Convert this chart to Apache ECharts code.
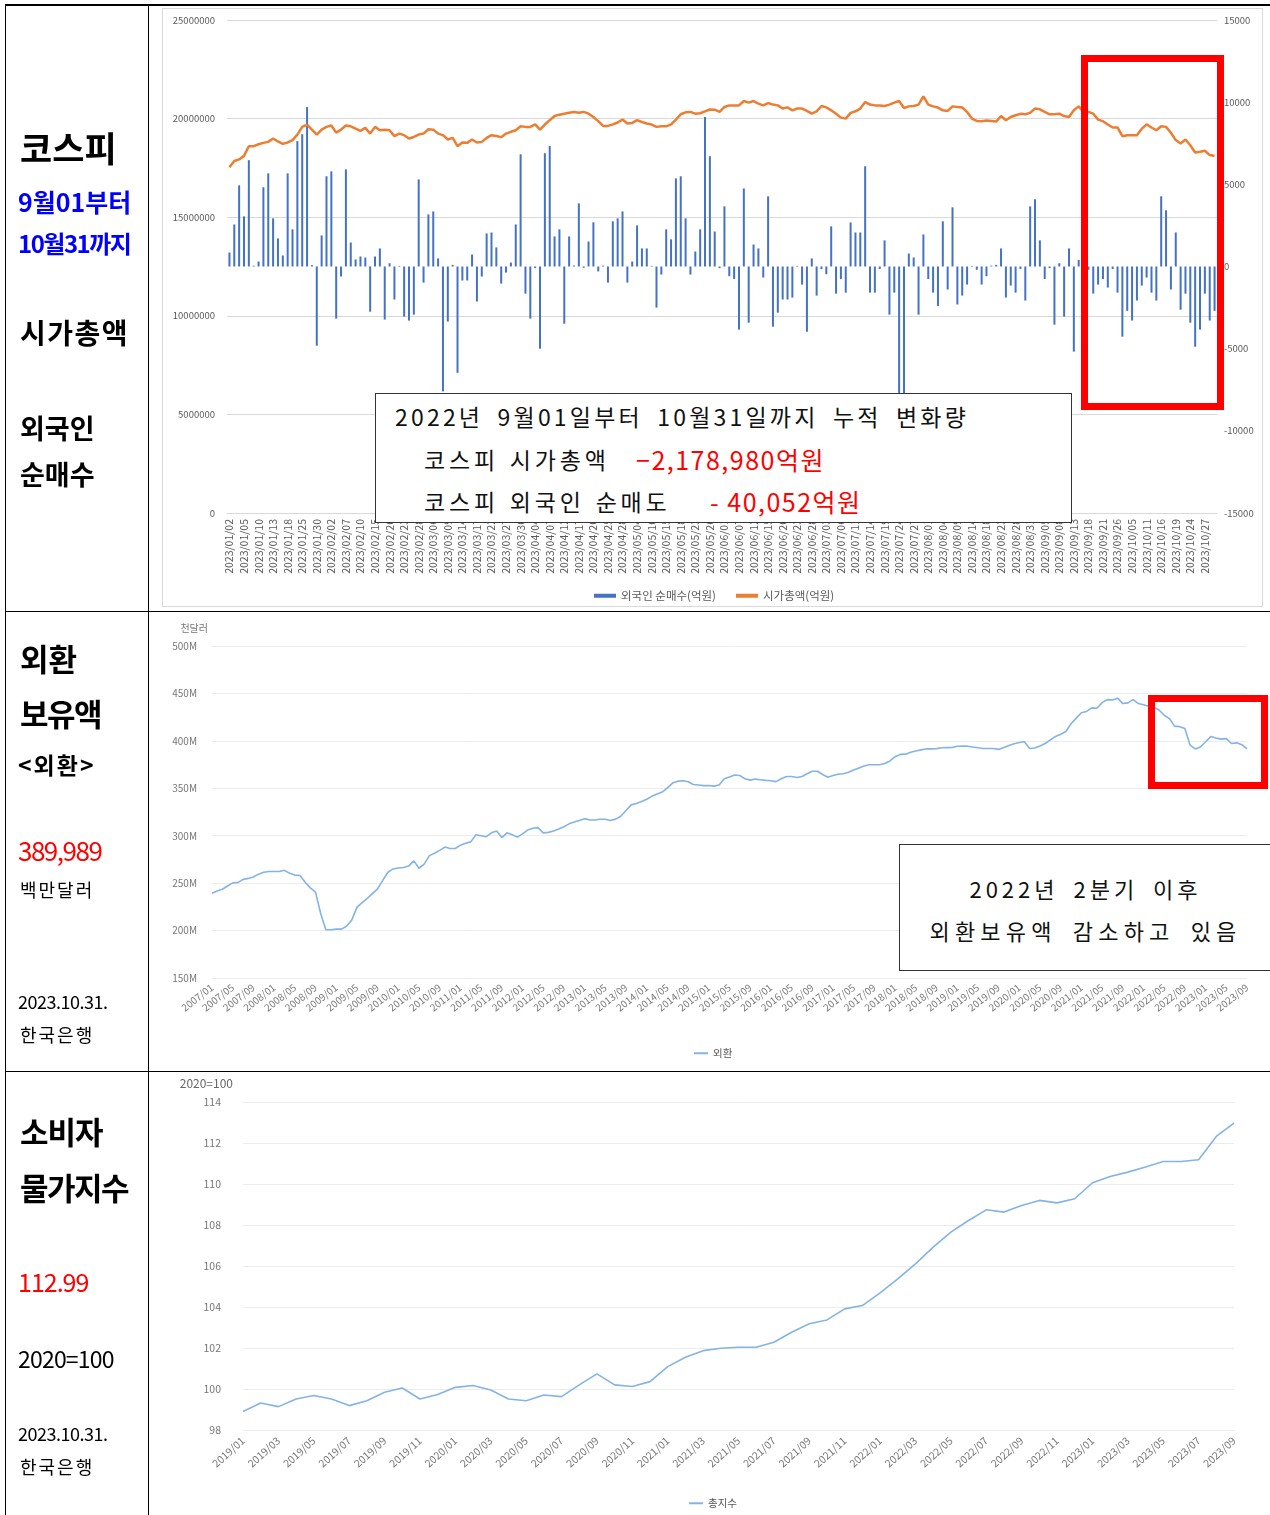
<!DOCTYPE html>
<html><head><meta charset="utf-8">
<script src="https://cdn.jsdelivr.net/npm/echarts@6/dist/echarts.min.js"></script>
<style>
html,body{margin:0;padding:0;background:#fff;}
#wrap{position:relative;width:1270px;height:1515px;overflow:hidden;font-family:"Noto Sans CJK KR","Noto Sans",sans-serif;}
#chart{position:absolute;left:0;top:0;width:1270px;height:1515px;}
.ln{position:absolute;background:#000;}
.t{position:absolute;left:20px;line-height:1;white-space:nowrap;transform:translateY(-50%);color:#000;}
.b{font-weight:bold;}
.box{position:absolute;background:#fff;border:1px solid #333;box-sizing:border-box;}
.bl{position:absolute;line-height:1;white-space:nowrap;transform:translateY(-50%);font-size:23px;letter-spacing:3.8px;word-spacing:2px;color:#111;}
.red{position:absolute;line-height:1;white-space:nowrap;transform:translateY(-50%);color:#ff0000;font-size:25px;letter-spacing:1.5px;}
.bc{position:absolute;left:0;width:371px;text-align:center;line-height:1;white-space:nowrap;transform:translateY(-50%);font-size:22px;letter-spacing:4px;word-spacing:6px;color:#111;}
.rbox{position:absolute;border:7px solid #ff0000;box-sizing:border-box;}
</style></head>
<body>
<div id="wrap">
<div id="chart"></div>
<!-- frame -->
<div class="ln" style="left:5px;top:4px;width:1265px;height:2px"></div>
<div class="ln" style="left:5px;top:4px;width:1px;height:1511px"></div>
<div class="ln" style="left:148px;top:4px;width:1px;height:1511px"></div>
<div class="ln" style="left:5px;top:611px;width:1265px;height:1px"></div>
<div class="ln" style="left:5px;top:1071px;width:1265px;height:1px"></div>
<div style="position:absolute;left:162px;top:8px;width:1099px;height:597px;border:1px solid #d9d9d9;"></div>

<!-- left panel -->
<div class="t b" style="top:146px;font-size:35px;">코스피</div>
<div class="t b" style="top:201px;left:18px;font-size:25px;color:#0000ff;letter-spacing:0px;">9월01부터</div>
<div class="t b" style="top:243px;left:18px;font-size:24px;color:#0000ff;letter-spacing:-1.5px;">10월31까지</div>
<div class="t b" style="top:332px;font-size:28px;letter-spacing:1.5px;">시가총액</div>
<div class="t b" style="top:427px;font-size:27px;">외국인</div>
<div class="t b" style="top:473px;font-size:27px;">순매수</div>

<div class="t b" style="top:657px;font-size:31px;letter-spacing:0px;">외환</div>
<div class="t b" style="top:712px;font-size:31px;letter-spacing:-1.5px;">보유액</div>
<div class="t b" style="top:764px;left:18px;font-size:23px;letter-spacing:2px;">&lt;외환&gt;</div>
<div class="t" style="top:850px;left:18px;font-size:26px;color:#ff0000;letter-spacing:-1.5px;">389,989</div>
<div class="t" style="top:889px;font-size:18px;letter-spacing:2px;">백만달러</div>
<div class="t" style="top:1001px;left:18px;font-size:18px;letter-spacing:-0.5px;">2023.10.31.</div>
<div class="t" style="top:1034px;font-size:18px;letter-spacing:2px;">한국은행</div>

<div class="t b" style="top:1130px;font-size:31px;letter-spacing:-1px;">소비자</div>
<div class="t b" style="top:1186px;font-size:31px;letter-spacing:-1.5px;">물가지수</div>
<div class="t" style="top:1281px;left:18px;font-size:25px;color:#ff0000;letter-spacing:-1px;">112.99</div>
<div class="t" style="top:1358px;left:18px;font-size:23px;letter-spacing:-0.8px;">2020=100</div>
<div class="t" style="top:1433px;left:18px;font-size:18px;letter-spacing:-0.5px;">2023.10.31.</div>
<div class="t" style="top:1466px;font-size:18px;letter-spacing:2px;">한국은행</div>

<!-- annotation boxes -->
<div class="box" style="left:375px;top:393px;width:697px;height:130px;">
  <div class="bl" style="left:19px;top:22px;letter-spacing:3.2px;word-spacing:6px;">2022년 9월01일부터 10월31일까지 누적 변화량</div>
  <div class="bl" style="left:48px;top:65px;">코스피 시가총액</div>
  <div class="red" style="left:260px;top:65px;">−2,178,980억원</div>
  <div class="bl" style="left:48px;top:107px;">코스피 외국인 순매도</div>
  <div class="red" style="left:334px;top:107px;">- 40,052억원</div>
</div>
<div class="rbox" style="left:1081px;top:55px;width:143px;height:355px;"></div>

<div class="box" style="left:899px;top:844px;width:380px;height:127px;">
  <div class="bc" style="top:43px;">2022년 2분기 이후</div>
  <div class="bc" style="top:85px;letter-spacing:5.2px;">외환보유액 감소하고 있음</div>
</div>
<div class="rbox" style="left:1148px;top:695px;width:120px;height:94px;"></div>
</div>

<script>
// ---------- KOSPI (2023 trading days) ----------
const krxHolidays = ['2023-01-23','2023-01-24','2023-03-01','2023-05-01','2023-05-05','2023-05-29',
  '2023-06-06','2023-08-15','2023-09-28','2023-09-29','2023-10-02','2023-10-03','2023-10-09'];
const kospiDates = [];
(function(){
  const p = n => (n < 10 ? '0' : '') + n;
  for (let t = Date.UTC(2023,0,2); t <= Date.UTC(2023,9,31); t += 86400000) {
    const d = new Date(t), wd = d.getUTCDay();
    const key = d.getUTCFullYear() + '-' + p(d.getUTCMonth()+1) + '-' + p(d.getUTCDate());
    if (wd === 0 || wd === 6 || krxHolidays.indexOf(key) >= 0) continue;
    kospiDates.push(d.getUTCFullYear() + '/' + p(d.getUTCMonth()+1) + '/' + p(d.getUTCDate()));
  }
})();

// 외국인 순매수 (억원)
const foreignNet = [
  850, 2560, 4940, 3050, 6470, 50, 300, 4820, 5670, 2930,
  1710, 670, 5670, 2260, 7630, 8050, 9700, 80, -4820, 1890,
  5490, 5790, -3170, -610, 5910, 1460, 430, 610, 550, -2750,
  610, 1100, -3230, 200, -2010, 40, -3050, -3290, -2930, 5300,
  -980, 3170, 3350, 490, -7600, -3350, 100, -6470, -850, -850,
  730, -2130, -610, 2010, 2070, 1160, -1040, -370, 240, 2560,
  6830, -1650, -3170, -100, -5000, 6890, 7330, 1830, 2260, -3480,
  1830, 60, 3840, -80, 1520, 2690, -300, 50, -980, 2750,
  2930, 3350, -980, 300, 2500, 1100, 1100, 40, -2500, -490,
  2260, 1650, 5360, 5490, 2930, -490, 910, 2260, 9100, 6710,
  2130, -100, 3660, -590, -760, -3840, 4750, -3420, 1340, 1100,
  -670, 4270, -3660, -2810, -2010, -2010, -1890, 40, -1100, -3970,
  490, -1770, -160, -470, 2440, -1650, -760, -1590, 2680, 2070,
  2070, 6100, -1590, -1590, -150, 1590, -2930, -1590, -8000, -7700,
  790, 550, -2930, 1950, -760, -1590, -2400, 2750, -1400, 3600,
  -2310, -1770, -1100, 40, -200, -1100, -590, 50, 100, 1100,
  -1890, -1160, -1590, -150, -2070, 3660, 4090, 1590, -760, -100,
  -3540, 200, -3050, 1100, -5180, 400, -300, -200, -1650, -1100,
  -760, -1280, -150, -1590, -4270, -2700, -3290, -2070, -1160, -670,
  -1590, -2070, 4270, 3420, -1400, 2070, -2630, -1650, -3420, -4880,
  -3840, -1650, -3290, -2700
];

// 시가총액 (억원)
const marketCap = [
  17530000, 17850000, 17930000, 18110000, 18600000, 18600000, 18700000, 18770000, 18820000, 18990000,
  18840000, 18720000, 18790000, 18910000, 19190000, 19580000, 19700000, 19440000, 19190000, 19440000,
  19580000, 19650000, 19290000, 19440000, 19650000, 19610000, 19490000, 19380000, 19530000, 19240000,
  19580000, 19410000, 19440000, 19410000, 19110000, 19240000, 19160000, 18990000, 19070000, 19190000,
  19240000, 19460000, 19440000, 19240000, 19160000, 18940000, 19020000, 18600000, 18790000, 18770000,
  18940000, 18790000, 18820000, 19020000, 19160000, 19120000, 19060000, 19240000, 19330000, 19410000,
  19610000, 19580000, 19580000, 19710000, 19440000, 19700000, 19920000, 20130000, 20200000, 20250000,
  20300000, 20340000, 20300000, 20340000, 20250000, 20080000, 19870000, 19630000, 19630000, 19710000,
  19800000, 19950000, 19750000, 19780000, 19920000, 19830000, 19750000, 19700000, 19580000, 19610000,
  19610000, 19710000, 19950000, 20220000, 20320000, 20340000, 20250000, 20270000, 20370000, 20460000,
  20450000, 20340000, 20590000, 20670000, 20670000, 20670000, 20890000, 20810000, 20890000, 20760000,
  20670000, 20790000, 20710000, 20670000, 20510000, 20570000, 20420000, 20510000, 20510000, 20390000,
  20250000, 20370000, 20640000, 20570000, 20420000, 20250000, 20050000, 20000000, 20290000, 20370000,
  20510000, 20840000, 20710000, 20670000, 20670000, 20640000, 20710000, 20810000, 20890000, 20540000,
  20620000, 20640000, 20710000, 21130000, 20710000, 20620000, 20560000, 20420000, 20390000, 20620000,
  20590000, 20560000, 20340000, 20000000, 19880000, 19870000, 19900000, 19880000, 19850000, 20130000,
  19920000, 20080000, 20170000, 20240000, 20220000, 20290000, 20510000, 20470000, 20340000, 20220000,
  20220000, 20250000, 20130000, 20080000, 20420000, 20620000, 20340000, 20340000, 20250000, 19950000,
  19870000, 19700000, 19550000, 19550000, 19110000, 19160000, 19160000, 19160000, 19490000, 19710000,
  19550000, 19410000, 19610000, 19580000, 19280000, 18910000, 18740000, 18940000, 18650000, 18280000,
  18320000, 18370000, 18150000, 18100000
];

// ---------- 외환보유액 (외환), 2007/01 - 2023/09, M 천달러 ----------
const fxMonths = [];
for (let y = 2007; y <= 2023; y++) for (let m = 1; m <= 12; m++) {
  if (y === 2023 && m > 9) break;
  fxMonths.push(y + '/' + (m < 10 ? '0' : '') + m);
}
const fxReserve = [
  239.4, 241.8, 243.6, 247.0, 250.3, 250.6, 254.0, 255.0, 256.5, 259.5,
  261.5, 262.2, 262.2, 262.2, 263.5, 260.5, 258.5, 258.0, 251.0, 245.0,
  240.5, 218.0, 200.8, 200.8, 201.5, 201.5, 204.5, 211.0, 224.5, 229.5,
  234.0, 239.0, 244.0, 253.0, 261.5, 265.0, 266.0, 266.5, 268.0, 273.5,
  265.7, 270.0, 279.0, 281.5, 284.5, 288.0, 286.5, 286.5, 290.0, 292.0,
  293.5, 301.0, 300.0, 299.0, 303.0, 305.0, 298.0, 303.0, 301.0, 298.5,
  302.0, 306.0, 307.8, 308.5, 303.0, 303.5, 305.0, 307.0, 309.5, 312.5,
  314.5, 316.0, 318.0, 316.5, 316.5, 317.3, 317.3, 316.0, 317.5, 320.5,
  326.5, 332.5, 334.0, 336.0, 338.5, 341.5, 344.0, 346.0, 350.5, 355.5,
  357.5, 358.0, 356.9, 354.0, 353.4, 352.8, 353.0, 352.3, 353.4, 360.0,
  362.0, 364.0, 363.5, 360.0, 358.6, 359.7, 359.0, 358.3, 358.0, 357.0,
  360.0, 362.5, 362.5, 361.3, 362.5, 365.3, 368.0, 368.0, 364.5, 361.6,
  363.5, 364.9, 365.3, 366.8, 369.2, 371.4, 373.4, 374.8, 374.8, 374.8,
  376.2, 378.8, 383.3, 385.7, 386.0, 388.0, 389.3, 390.5, 391.5, 391.5,
  391.8, 392.8, 392.9, 393.0, 394.3, 394.4, 394.4, 393.5, 392.8, 392.0,
  392.0, 392.0, 391.0, 393.0, 395.0, 397.0, 398.2, 399.0, 392.0, 392.5,
  394.5, 397.2, 401.0, 404.7, 407.0, 409.8, 418.0, 424.0, 429.7, 431.0,
  434.8, 434.3, 440.3, 443.5, 443.0, 445.0, 439.3, 440.0, 443.5, 439.3,
  438.0, 436.5, 435.5, 432.5, 427.0, 423.5, 415.5, 415.0, 413.0, 395.5,
  391.5, 393.5, 399.0, 404.5, 403.0, 401.8, 402.4, 397.2, 397.9, 396.0,
  391.5
];

// ---------- 소비자물가지수 총지수, 2019/01 - 2023/09 ----------
const cpiMonths = [];
for (let y = 2019; y <= 2023; y++) for (let m = 1; m <= 12; m++) {
  if (y === 2023 && m > 9) break;
  cpiMonths.push(y + '/' + (m < 10 ? '0' : '') + m);
}
const cpiIndex = [
  98.90, 99.32, 99.14, 99.51, 99.68, 99.51, 99.19, 99.43, 99.84, 100.05,
  99.51, 99.73, 100.08, 100.17, 99.95, 99.51, 99.43, 99.71, 99.63, 100.20,
  100.74, 100.20, 100.12, 100.36, 101.09, 101.55, 101.87, 101.99, 102.04, 102.04,
  102.28, 102.77, 103.18, 103.37, 103.91, 104.07, 104.69, 105.37, 106.10, 106.92,
  107.65, 108.22, 108.74, 108.63, 108.95, 109.20, 109.08, 109.28, 110.06, 110.37,
  110.58, 110.83, 111.10, 111.10, 111.18, 112.32, 112.97
];

const FONT = '"Noto Sans CJK KR","Noto Sans",sans-serif';
const plain = v => String(v);
const chart = echarts.init(document.getElementById('chart'), null, {renderer:'canvas', width:1270, height:1515});
const gridLine = {lineStyle:{color:'#ececec', width:1}};
chart.setOption({
  animation:false,
  backgroundColor:'transparent',
  textStyle:{fontFamily:FONT},
  grid:[
    {left:227, top:20, width:990, height:493},
    {left:212, top:646, width:1035, height:332},
    {left:243, top:1102, width:991, height:328}
  ],
  xAxis:[
    {gridIndex:0, type:'category', data:kospiDates, boundaryGap:true,
     axisLine:{onZero:false, lineStyle:{color:'#d9d9d9'}}, axisTick:{show:false},
     axisLabel:{interval:2, rotate:90, fontSize:10.5, color:'#595959', margin:6}},
    {gridIndex:1, type:'category', data:fxMonths, boundaryGap:false,
     axisLine:{show:false}, axisTick:{show:false},
     axisLabel:{interval:3, rotate:38, fontSize:10, color:'#777', margin:8}},
    {gridIndex:2, type:'category', data:cpiMonths, boundaryGap:false,
     axisLine:{show:false}, axisTick:{show:false},
     axisLabel:{interval:1, rotate:42, fontSize:10.5, color:'#777', margin:9}}
  ],
  yAxis:[
    {gridIndex:0, type:'value', min:0, max:25000000, interval:5000000,
     axisLine:{show:false}, axisTick:{show:false},
     axisLabel:{fontSize:9.5, color:'#595959', margin:12, formatter:plain},
     splitLine:{lineStyle:{color:'#d9d9d9'}}},
    {gridIndex:0, type:'value', position:'right', min:-15000, max:15000, interval:5000,
     axisLine:{show:false}, axisTick:{show:false},
     axisLabel:{fontSize:9.5, color:'#595959', margin:7, formatter:plain}, splitLine:{show:false}},
    {gridIndex:1, type:'value', min:150, max:500, interval:50,
     name:'천달러', nameLocation:'end', nameGap:13,
     nameTextStyle:{fontSize:10, color:'#777', align:'right', padding:[0,4,0,0]},
     axisLine:{show:false}, axisTick:{show:false},
     axisLabel:{formatter:'{value}M', fontSize:10, color:'#777', margin:15},
     splitLine:gridLine},
    {gridIndex:2, type:'value', min:98, max:114, interval:2,
     name:'2020=100', nameLocation:'end', nameGap:13,
     nameTextStyle:{fontSize:12, color:'#666', align:'right', padding:[0,10,0,0]},
     axisLine:{show:false}, axisTick:{show:false},
     axisLabel:{fontSize:10.5, color:'#777', margin:22},
     splitLine:gridLine}
  ],
  legend:[
    {data:[{name:'외국인 순매수(억원)', icon:'rect', itemStyle:{color:'#4472C4'}},
           {name:'시가총액(억원)', icon:'rect', itemStyle:{color:'#ED7D31'}}],
     left:589, top:585, itemWidth:22, itemHeight:4, itemGap:20,
     textStyle:{fontSize:11.5, color:'#595959'}},
    {data:[{name:'외환', icon:'rect'}], left:689, top:1043, itemWidth:14, itemHeight:2,
     textStyle:{fontSize:10.5, color:'#555'}},
    {data:[{name:'총지수', icon:'rect'}], left:684, top:1493, itemWidth:14, itemHeight:2,
     textStyle:{fontSize:10.5, color:'#555'}}
  ],
  series:[
    {name:'외국인 순매수(억원)', type:'bar', xAxisIndex:0, yAxisIndex:1, data:foreignNet,
     barWidth:2, itemStyle:{color:'#4472C4'}},
    {name:'시가총액(억원)', type:'line', xAxisIndex:0, yAxisIndex:0, data:marketCap,
     symbol:'none', lineStyle:{color:'#ED7D31', width:2.5}, itemStyle:{color:'#ED7D31'}, z:3},
    {name:'외환', type:'line', xAxisIndex:1, yAxisIndex:2, data:fxReserve,
     symbol:'none', lineStyle:{color:'#84b3e6', width:1.6}, itemStyle:{color:'#84b3e6'}},
    {name:'총지수', type:'line', xAxisIndex:2, yAxisIndex:3, data:cpiIndex,
     symbol:'none', lineStyle:{color:'#84b3e6', width:1.6}, itemStyle:{color:'#84b3e6'}}
  ]
});
</script>
</body></html>
